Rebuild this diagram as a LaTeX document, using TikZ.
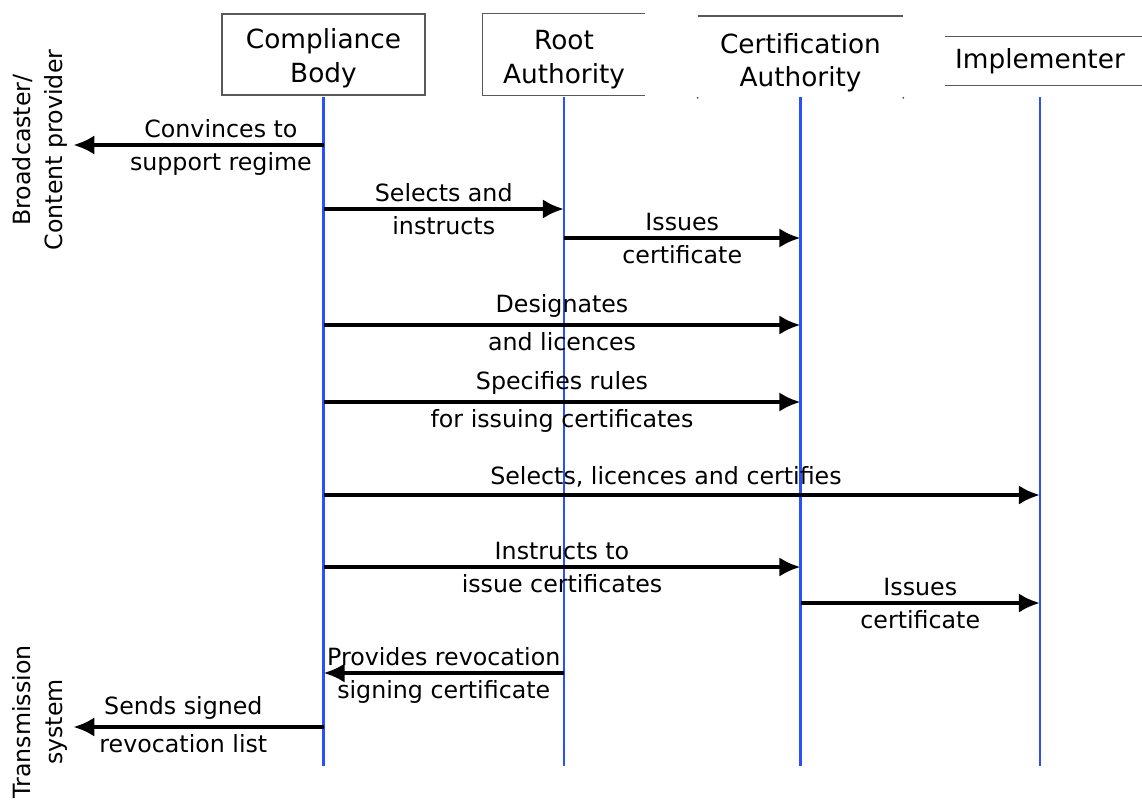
\documentclass[tikz,border=0pt]{standalone}
\usepackage{fontspec}
\setmainfont{DejaVu Sans}
\newcommand{\headtext}[2][2.5pt]
  {\raisebox{-#1}[\height][\depth]{\begin{tabular}{@{}c@{}}#2\end{tabular}}}
\usetikzlibrary{calc,positioning,arrows.meta}
\definecolor{lifeblue}{RGB}{40,80,255}
\tikzset{
  head/.style={inner sep=0pt, align=center, font=\fontsize{15}{19}\selectfont},
  frame/.style={draw=black!65, line width=0.9pt},
  lifeline/.style={draw=lifeblue, line width=1.6pt},
  msg/.style={draw=black, line width=2.3pt, -{Latex[length=12pt,width=11pt]}},
  txt/.style={font=\fontsize{13.5}{18}\selectfont, align=center, inner xsep=0pt, inner ysep=3.2pt}
}

\begin{document}
\begin{tikzpicture}[x=0.02cm,y=-0.02cm]

\useasboundingbox (0,0) rectangle (1142,801);

% participants
\node[head, frame, minimum width=4.06cm, minimum height=1.62cm] (CB) at (323.5,54.5) {\headtext{Compliance\\Body}};
\node[head, minimum width=3.24cm, minimum height=1.62cm] (RA) at (564,54.5) {\headtext[3pt]{Root\\Authority}};
\node[head, minimum width=4.1cm, minimum height=1.62cm] (CA) at (800.5,57) {\headtext[3.5pt]{Certification\\Authority}};
\node[head, minimum width=3.8cm, minimum height=0.96cm] (IM) at (1040,61) {Implementer};

% outside parties
\node[txt, rotate=90] (BCP) at (40,150) {Broadcaster/\\Content provider};
\node[txt, rotate=90] (TS) at (40,722) {Transmission\\system};

% partial frames
\coordinate (edgeR) at (1142,0);
\draw[frame] (RA.north east) -- (RA.north west) -- (RA.south west) -- (RA.south east);
\draw[frame] (CA.north west) -- (CA.north east);
\fill[black!65] (CA.south west) circle (0.6pt) (CA.south east) circle (0.6pt);
\draw[frame] (IM.north west) -- (IM.north west -| edgeR);
\draw[frame] (IM.south west) -- (IM.south west -| edgeR);

% lifelines
\coordinate (top) at (0,97);
\coordinate (bottom) at (0,766);
\foreach \p in {CB,RA,CA,IM}
  \draw[lifeline] (\p |- top) -- (\p |- bottom);

% message rows
\coordinate (m1) at (0,145);
\coordinate (m2) at (0,209);
\coordinate (m3) at (0,238);
\coordinate (m4) at (0,325);
\coordinate (m5) at (0,402);
\coordinate (m6) at (0,495);
\coordinate (m7) at (0,567);
\coordinate (m8) at (0,603);
\coordinate (m9) at (0,673);
\coordinate (m10) at (0,727);

% messages
\draw[msg] (CB |- m1) -- node[txt,above,pos=.41]{Convinces to} node[txt,below,pos=.41]{support regime} (BCP.south |- m1);
\draw[msg] (CB |- m2) -- node[txt,above]{Selects and} node[txt,below]{instructs} (RA |- m2);
\draw[msg] (RA |- m3) -- node[txt,above]{Issues} node[txt,below]{certificate} (CA |- m3);
\draw[msg] (CB |- m4) -- node[txt,above]{Designates} node[txt,below]{and licences} (CA |- m4);
\draw[msg] (CB |- m5) -- node[txt,above]{Specifies rules} node[txt,below]{for issuing certificates} (CA |- m5);
\draw[msg] (CB |- m6) -- node[txt,above,pos=.478]{Selects, licences and certifies} (IM |- m6);
\draw[msg] (CB |- m7) -- node[txt,above]{Instructs to} node[txt,below]{issue certificates} (CA |- m7);
\draw[msg] (CA |- m8) -- node[txt,above]{Issues} node[txt,below]{certificate} (IM |- m8);
\draw[msg] (RA |- m9) -- node[txt,above]{Provides revocation} node[txt,below]{signing certificate} (CB |- m9);
\draw[msg] (CB |- m10) -- node[txt,above,pos=.56]{Sends signed} node[txt,below,pos=.56]{revocation list} (TS.south |- m10);

\end{tikzpicture}
\end{document}
